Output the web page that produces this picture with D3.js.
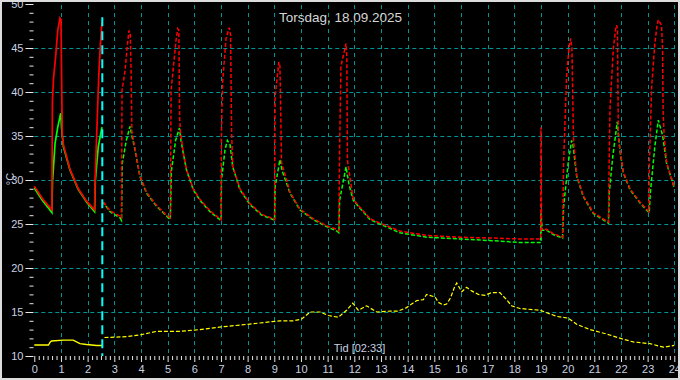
<!DOCTYPE html>
<html>
<head>
<meta charset="utf-8">
<script src="https://cdn.jsdelivr.net/npm/d3@7"></script>
<style>
    body { margin: 0; background: #000; }
    #chart text { font-family: Arial, "Liberation Sans", sans-serif; }
</style>
</head>
<body>
<div id="chart"></div>
<script>
// Data (hours of the day / degrees C)
// ==============================
let hourTicks = d3.range(0, 25);
let tempTicks = [10, 15, 20, 25, 30, 35, 40, 45, 50];
let nowHour = 2.55;
let titleText = "Torsdag, 18.09.2025";
let nowText = "Tid [02:33]";

let redT = [0, 0.3, 0.66, 0.68, 0.72, 0.8, 0.88, 0.96, 1.0, 1.02, 1.05, 1.1, 1.34, 1.65, 1.96, 2.26, 2.28, 2.35, 2.42, 2.48, 2.53, 2.55,
    2.59, 2.84, 3.21, 3.27, 3.29, 3.4, 3.48, 3.55, 3.6, 3.63, 3.66, 3.78, 3.96, 4.21, 4.59, 4.96, 5.1, 5.13, 5.24, 5.32, 5.38, 5.42, 5.45, 5.48,
    5.59, 5.71, 5.96, 6.21, 6.59, 6.96, 7.0, 7.02, 7.06, 7.19, 7.31, 7.36, 7.4, 7.44, 7.71, 8.09, 8.53, 8.96, 9.01, 9.03, 9.17, 9.21, 9.24,
    9.27, 9.59, 9.96, 10.46, 10.96, 11.34, 11.42, 11.45, 11.5, 11.69, 11.72, 11.74, 11.96, 12.21, 12.59, 12.96, 13.71, 14.71, 15.96, 17.2,
    18.21, 18.96, 18.99, 19.0, 19.02, 19.21, 19.46, 19.81, 19.85, 19.96, 20.05, 20.11, 20.16, 20.19, 20.22, 20.34, 20.59, 20.96, 21.53,
    21.56, 21.59, 21.71, 21.8, 21.84, 21.87, 21.9, 21.96, 22.09, 22.34, 22.71, 23.02, 23.05, 23.07, 23.15, 23.27, 23.35, 23.4, 23.52,
    23.56, 23.58, 23.62, 23.71, 24];
let redV = [29.3, 27.9, 26.6, 39, 41.5, 44, 47, 48.4, 48.2, 42.7, 35, 33.9, 31.2, 29.0, 27.6, 26.6, 30, 36, 42, 45.5, 47.8, 47.8,
    27.5, 26.5, 25.9, 25.7, 40.2, 42.3, 45, 47.0, 46.5, 42.3, 35.5, 33.5, 30.5, 28.6, 27.1, 26.0, 25.7, 40.2, 43.6, 46, 47.2, 47, 37, 35.5,
    33.1, 31.2, 29.0, 27.8, 26.5, 25.6, 25.5, 35.3, 41.0, 46.1, 47.3, 46.5, 35.3, 31.6, 29.0, 27.3, 26.1, 25.6, 25.5, 39.5, 43.4, 43, 38,
    32, 28.6, 26.7, 25.6, 24.8, 24.4, 24.2, 33.8, 42.9, 45.5, 44, 32.3, 27.8, 26.9, 25.6, 25.1, 24.2, 23.7, 23.5, 23.4,
    23.3, 23.3, 23.3, 36, 24.4, 24.4, 23.9, 23.5, 32.1, 41.7, 45, 46.1, 45, 39.9, 34.6, 30.5, 28.2, 26.3, 25.2,
    32.6, 38.1, 44.8, 47.2, 47.6, 47, 35.3, 33.5, 30.9, 29.0, 27.5, 26.5, 26.4, 32.3, 40.6, 45.5, 47.5, 48.2, 47.6,
    45, 38.0, 35, 32, 29.2];

let greenT = [0, 0.3, 0.66, 0.68, 0.78, 0.88, 0.99, 1.02, 1.09, 1.34, 1.65, 1.96, 2.26, 2.29, 2.4, 2.53, 2.55,
    2.59, 2.84, 3.21, 3.27, 3.3, 3.45, 3.59, 3.66, 3.78, 3.96, 4.21, 4.59, 4.96, 5.1, 5.14, 5.3, 5.44, 5.5, 5.59, 5.71, 5.96, 6.21, 6.59,
    6.96, 7.0, 7.02, 7.15, 7.24, 7.34, 7.44, 7.71, 8.09, 8.53, 8.96, 9.01, 9.03, 9.21, 9.3, 9.59, 9.96, 10.46, 10.96, 11.34, 11.42, 11.45,
    11.69, 11.8, 11.96, 12.21, 12.59, 12.96, 13.71, 14.71, 15.96, 17.2, 18.21, 18.99, 19.0, 19.05, 19.21, 19.46, 19.81, 19.85, 20.02,
    20.15, 20.2, 20.34, 20.59, 20.96, 21.53, 21.56, 21.69, 21.86, 21.96, 22.09, 22.34, 22.71, 23.02, 23.06, 23.1, 23.27, 23.4, 23.56,
    23.71, 24];
let greenV = [29.1, 27.7, 26.3, 29.7, 34.2, 36, 37.6, 36, 33.8, 31.1, 28.9, 27.5, 26.4, 30, 33.8, 35.9, 36,
    27.4, 26.4, 25.7, 25.4, 31.9, 34.5, 36.1, 35, 33.4, 30.4, 28.5, 27.0, 25.9, 25.5, 31, 34.5, 35.9, 34.5, 33.0, 31.1, 28.9, 27.7, 26.4,
    25.5, 25.4, 30.0, 33.4, 34.5, 34.0, 31.5, 28.9, 27.2, 26.0, 25.5, 25.4, 29.2, 32.3, 31, 28.5, 26.6, 25.5, 24.7, 24.2, 24.0, 27.7,
    31.5, 29.5, 27.7, 26.8, 25.5, 25.0, 24.0, 23.5, 23.3, 23.1, 22.9, 22.9, 26.2, 24.3, 24.3, 23.8, 23.4, 27.0, 31.9,
    34.5, 34, 30.4, 28.1, 26.2, 25.1, 28.5, 32.6, 36.6, 33.4, 30.8, 28.9, 27.4, 26.4, 26.3, 28.5, 33.8, 36.8, 35.1,
    31.9, 29.1];

let yellowT = [0, 0.53, 0.6, 0.65, 1.09, 1.46, 1.71, 1.96, 2.34, 2.55,
    2.63, 3.46, 3.96, 4.59, 5.46, 6.0, 6.21, 7.0, 8.0, 8.6, 9.21, 9.71, 10.03, 10.34, 10.71, 11.03, 11.4, 11.71, 11.94, 12.15, 12.46,
    12.84, 13.34, 13.65, 13.96, 14.34, 14.59, 14.71, 15.03, 15.15, 15.34, 15.46, 15.61, 15.74, 15.84, 16.03, 16.21, 16.4, 16.65, 16.9,
    17.15, 17.46, 17.71, 17.9, 18.21, 18.96, 19.59, 20.02, 20.34, 20.84, 21.46, 22.09, 22.46, 23.09, 23.59, 24];
let yellowV = [11.25, 11.25, 11.6, 11.7, 11.8, 11.8, 11.4, 11.3, 11.2, 11.2,
    12.1, 12.2, 12.4, 12.8, 12.8, 12.95, 13.0, 13.3, 13.6, 13.8, 14.0, 14.0, 14.2, 15.0, 15.0, 14.6, 14.4, 15.2, 16.0, 15.2, 15.7,
    15.0, 15.1, 15.1, 15.5, 16.3, 16.4, 17.0, 16.7, 16.1, 15.8, 15.9, 16.6, 17.7, 18.3, 17.3, 17.8, 17.4, 17.0, 16.9,
    17.2, 17.2, 16.4, 15.7, 15.4, 15.2, 14.5, 14.3, 13.6, 13.0, 12.5, 11.9, 11.6, 11.4, 11.0, 11.2];

// SVG setup
// ==============================
let svgWidth = 680;
let svgHeight = 380;
let plot = { left: 34.3, right: 674.3, top: 4, bottom: 356 };

let svg = d3.select("#chart")
    .append("svg")
    .attr("width", svgWidth)
    .attr("height", svgHeight)
    .style("display", "block");

svg.append("rect")
    .attr("width", svgWidth)
    .attr("height", svgHeight)
    .attr("fill", "#000");

// Scales
// ==============================
let xScale = d3.scaleLinear().domain([0, 24]).range([plot.left, plot.right]);
let yScale = d3.scaleLinear().domain([10, 50]).range([plot.bottom, plot.top]);

let gridColor = "#009494";
let labelColor = "#c9d1e0";

// Grid lines
// ==============================
svg.append("g").selectAll("line")
    .data(hourTicks.filter(h => h > 0))
    .enter()
    .append("line")
    .attr("x1", d => Math.round(xScale(d)) + 0.5)
    .attr("x2", d => Math.round(xScale(d)) + 0.5)
    .attr("y1", yScale(50) + 1)
    .attr("y2", plot.bottom)
    .attr("stroke", gridColor)
    .attr("stroke-dasharray", "4,4");

svg.append("g").selectAll("line")
    .data(tempTicks.filter(t => t > 10 && t < 50))
    .enter()
    .append("line")
    .attr("x1", plot.left)
    .attr("x2", plot.right)
    .attr("y1", d => Math.round(yScale(d)) + 0.5)
    .attr("y2", d => Math.round(yScale(d)) + 0.5)
    .attr("stroke", gridColor)
    .attr("stroke-dasharray", "4,3");

// Axes
// ==============================
let minorHours = d3.range(0, 24 * 6 + 1).map(i => i / 6).filter((d, i) => i % 6 !== 0);
let minorTemps = d3.range(10, 51).filter(t => t % 5 !== 0);

let xAxisGroup = svg.append("g")
    .attr("transform", `translate(0, ${plot.bottom})`);
xAxisGroup.append("g")
    .call(d3.axisBottom(xScale).tickValues(minorHours).tickSize(4).tickFormat(""));
xAxisGroup.append("g")
    .call(d3.axisBottom(xScale).tickValues(hourTicks).tickSize(6).tickPadding(3).tickFormat(d3.format("d")));

let yAxisGroup = svg.append("g")
    .attr("transform", `translate(${plot.left - 0.8}, 0)`);
yAxisGroup.append("g")
    .call(d3.axisLeft(yScale).tickValues(minorTemps).tickSize(4).tickFormat(""));
yAxisGroup.append("g")
    .call(d3.axisLeft(yScale).tickValues(tempTicks).tickSize(8).tickPadding(2).tickFormat(d3.format("d")));

svg.selectAll(".domain").remove();
svg.selectAll(".tick line").attr("stroke", "#e8e8e8");
svg.selectAll(".tick text")
    .attr("fill", labelColor)
    .style("font-size", "11px");

// Series lines
// ==============================
let plotArea = svg.append("g");

function seriesPoints(times, values) {
    return times.map((t, i) => ({ t: t, v: values[i] }));
}

let lineGen = d3.line()
    .x(d => xScale(d.t))
    .y(d => yScale(d.v));

let seriesList = [
    { pts: seriesPoints(yellowT, yellowV), color: "#ffff00", offset: 0, width: 1.2 },
    { pts: seriesPoints(greenT, greenV), color: "#00ff00", offset: 2, width: 1.5 },
    { pts: seriesPoints(redT, redV), color: "#ff0000", offset: 0, width: 1.5 }
];

seriesList.forEach(s => {
    // recorded part (before the marker) is solid
    plotArea.append("path")
        .datum(s.pts.filter(p => p.t <= nowHour))
        .attr("d", lineGen)
        .attr("fill", "none")
        .attr("stroke", s.color)
        .attr("stroke-width", s.width + 0.2);

    // later part is dashed
    plotArea.append("path")
        .datum(s.pts.filter(p => p.t > nowHour))
        .attr("d", lineGen)
        .attr("fill", "none")
        .attr("stroke", s.color)
        .attr("stroke-width", s.width)
        .attr("stroke-dasharray", "4,2")
        .attr("stroke-dashoffset", s.offset);
});

// Current time marker
// ==============================
svg.append("line")
    .attr("x1", xScale(nowHour))
    .attr("x2", xScale(nowHour))
    .attr("y1", yScale(48.5))
    .attr("y2", plot.bottom)
    .attr("stroke", "#00ffff")
    .attr("stroke-width", 2)
    .attr("stroke-dasharray", "9,5");

// Labels
// ==============================
svg.append("text")
    .attr("x", 340.5)
    .attr("y", 22)
    .attr("text-anchor", "middle")
    .attr("fill", "#d6d6d6")
    .style("font-size", "13.5px")
    .text(titleText);

svg.append("text")
    .attr("x", 359.5)
    .attr("y", 352)
    .attr("text-anchor", "middle")
    .attr("fill", labelColor)
    .style("font-size", "11px")
    .text(nowText);

svg.append("text")
    .attr("transform", "translate(14, 179) rotate(-90)")
    .attr("text-anchor", "middle")
    .attr("fill", labelColor)
    .style("font-size", "11px")
    .text("°C");

// Frame
// ==============================
svg.append("rect")
    .attr("x", 1)
    .attr("y", 1)
    .attr("width", svgWidth - 2)
    .attr("height", svgHeight - 2)
    .attr("fill", "none")
    .attr("stroke", "#dcdcdc")
    .attr("stroke-width", 2);
</script>
</body>
</html>
